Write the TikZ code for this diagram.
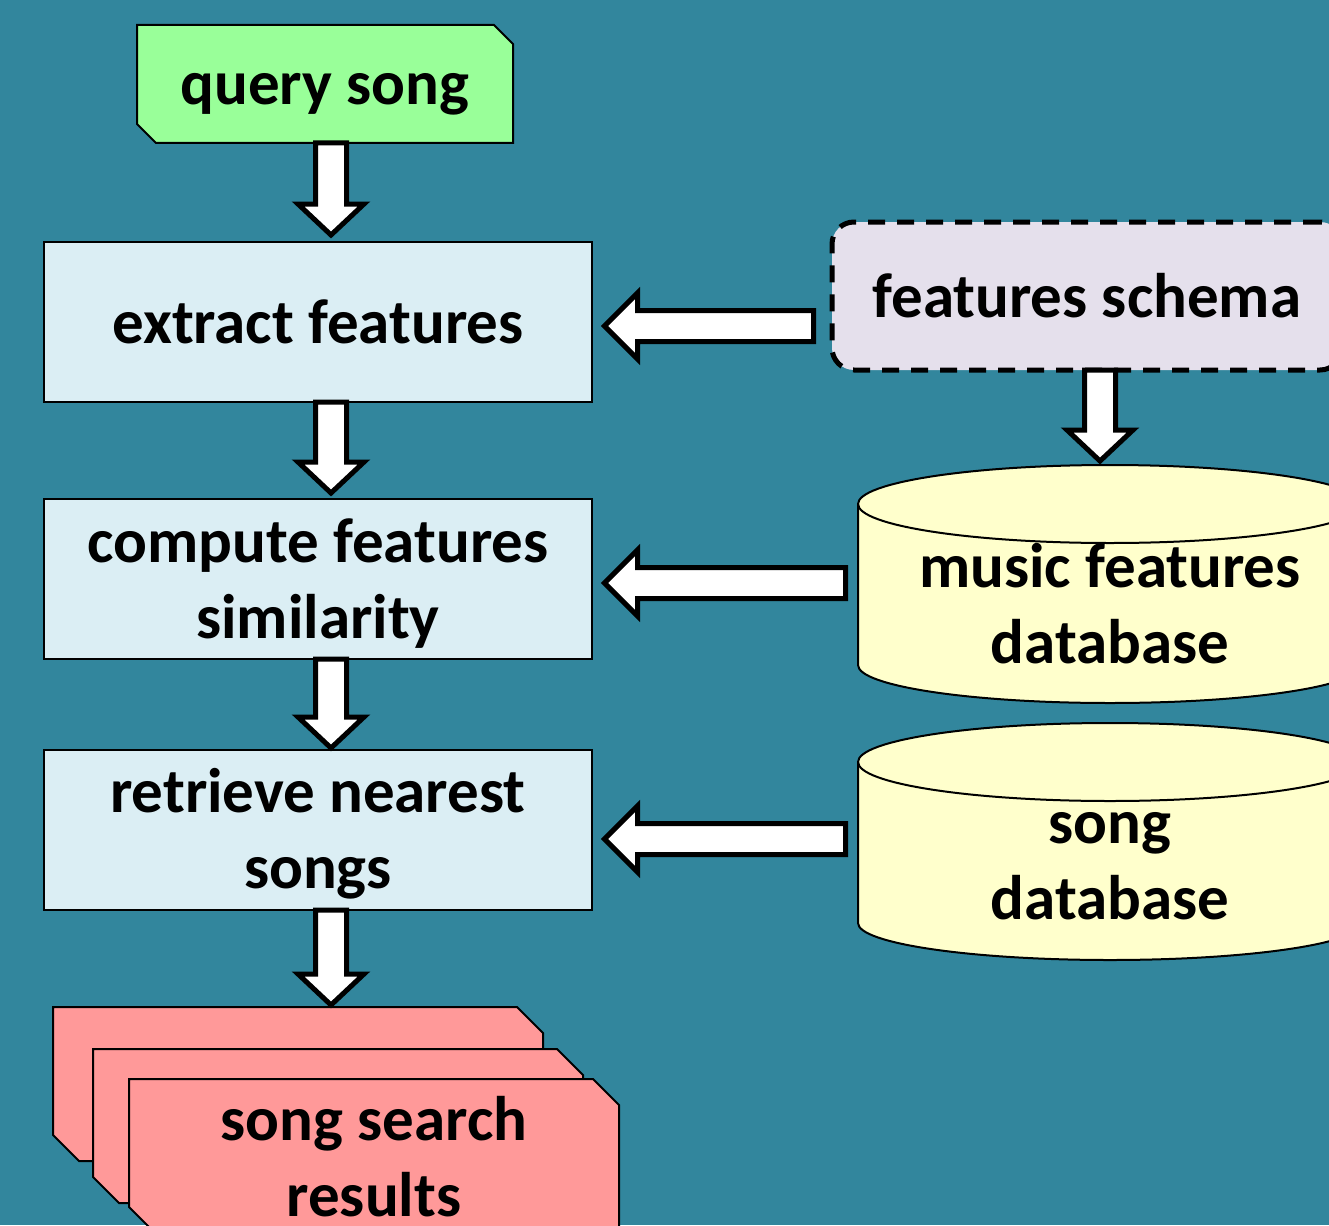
\documentclass[tikz,border=0pt]{standalone}
\usepackage{fontspec}
\setmainfont{Carlito}
\usetikzlibrary{shapes.misc,calc}

\definecolor{bgteal}{RGB}{50,134,157}
\definecolor{procfill}{RGB}{219,238,244}
\definecolor{queryfill}{RGB}{153,255,153}
\definecolor{schemafill}{RGB}{229,224,236}
\definecolor{dbfill}{RGB}{255,255,204}
\definecolor{resultfill}{RGB}{255,153,153}

\newcommand\diagfont{\fontsize{63}{76}\selectfont\bfseries}
% text block whose first baseline sits #1 above the node centre
\newcommand\lbl[2]{\smash{\raisebox{#1}{\begin{tabular}[t]{@{}c@{}}#2\end{tabular}}}}

% hollow block arrow pointing down: #1 shaft start, #2 tip (y only)
\newcommand\downblock[2]{%
  \draw[blockarrow] let \p1=#1, \p2=#2 in
    (\x1-15.5pt,\y1) -- (\x1-15.5pt,\y2+31pt) -- (\x1-33pt,\y2+31pt) -- (\x1,\y2)
    -- (\x1+33pt,\y2+31pt) -- (\x1+15.5pt,\y2+31pt) -- (\x1+15.5pt,\y1) -- cycle;}
% hollow block arrow pointing left: #1 tail (x only), #2 tip
\newcommand\leftblock[2]{%
  \draw[blockarrow] let \p1=#1, \p2=#2 in
    (\x1,\y2+15.5pt) -- (\x2+33pt,\y2+15.5pt) -- (\x2+33pt,\y2+33pt) -- (\x2,\y2)
    -- (\x2+33pt,\y2-33pt) -- (\x2+33pt,\y2-15.5pt) -- (\x1,\y2-15.5pt) -- cycle;}
% database cylinder filling the box of node #1; #2 top radius, #3 bottom radius
\newcommand\drawdb[3]{%
  \path[dbbody] let \p1=(#1.north west), \p2=(#1.south east), \n1={(\x2-\x1)/2} in
    (\x1,\y1-#2) -- (\x1,\y2+#3)
    arc[start angle=180,end angle=360,x radius=\n1,y radius=#3]
    -- (\x2,\y1-#2)
    arc[start angle=0,end angle=180,x radius=\n1,y radius=#2] -- cycle;
  \draw[dbline] let \p1=(#1.north west), \p2=(#1.south east), \n1={(\x2-\x1)/2} in
    (\x1,\y1-#2) arc[start angle=180,end angle=360,x radius=\n1,y radius=#2];}

\tikzset{
  every node/.style={inner sep=0pt, outer sep=0pt, font=\diagfont},
  procbox/.style={rectangle, draw=black, line width=2pt, fill=procfill,
    minimum width=548pt, minimum height=160pt},
  querybox/.style={chamfered rectangle, chamfered rectangle corners={north east,south west},
    chamfered rectangle xsep=20pt, chamfered rectangle ysep=19pt,
    draw=black, line width=2pt, fill=queryfill, minimum width=376pt, minimum height=118pt},
  schemabox/.style={rectangle, rounded corners=22pt, draw=black, line width=5pt,
    dash pattern=on 17pt off 12pt, fill=schemafill, minimum width=510pt, minimum height=148pt},
  dbzone/.style={rectangle, minimum width=504pt},
  dbbody/.style={draw=black, line width=2pt, fill=dbfill},
  dbline/.style={draw=black, line width=2pt},
  resultbox/.style={chamfered rectangle, chamfered rectangle corners={north east,south west},
    chamfered rectangle xsep=25pt, chamfered rectangle ysep=26pt,
    draw=black, line width=2pt, fill=resultfill, minimum width=490pt, minimum height=154pt},
  blockarrow/.style={draw=black, fill=white, line width=5pt, line join=miter},
}

\begin{document}
\begin{tikzpicture}[x=1pt,y=-1pt]
  \useasboundingbox (0,0) rectangle (1329,1225);
  \fill[bgteal] (0,0) rectangle (1329,1225);
  \clip (0,0) rectangle (1329,1225);

  % main pipeline
  \node[querybox] (q)  at (325,84)  {\lbl{-21pt}{query song}};
  \node[procbox]  (ef) at (318,322) {\lbl{-21pt}{extract features}};
  \node[procbox]  (cf) at (318,579) {\lbl{17pt}{compute features\\similarity}};
  \node[procbox]  (rn) at (318,830) {\lbl{18pt}{retrieve nearest\\songs}};

  % stacked results (the back sheets carry an invisible strut so the chamfers show)
  \node[resultbox] (r1) at (298,1084) {\hphantom{song search}};
  \node[resultbox] (r2) at (338,1126) {\hphantom{song search}};
  \node[resultbox] (r3) at (374,1156) {\lbl{16pt}{song search\\results}};

  % schema and databases
  \node[schemabox] (fs) at (1087,296) {\lbl{-21pt}{features schema}};
  \node[dbzone, minimum height=238pt] (md) at (1110,584) {};
  \drawdb{md}{39pt}{38pt}
  \node (mdt) at (md.center) {\lbl{-3pt}{music features\\database}};
  \node[dbzone, minimum height=237pt] (sd) at (1110,841.5) {};
  \drawdb{sd}{39pt}{37pt}
  \node (sdt) at (sd.center) {\lbl{-1.5pt}{song\\database}};

  % connectors
  \downblock{([xshift=6pt]q.south)}{([yshift=7pt]ef.north)}
  \downblock{([xshift=13pt]ef.south)}{([yshift=6pt]cf.north)}
  \downblock{([xshift=13pt]cf.south)}{([yshift=2pt]rn.north)}
  \downblock{([xshift=13pt]rn.south)}{([yshift=2pt]r1.north)}
  \downblock{([xshift=13pt]fs.south)}{([yshift=4pt]md.north)}
  \leftblock{([xshift=-18.5pt]fs.west)}{([xshift=12.5pt,yshift=-4pt]ef.east)}
  \leftblock{([xshift=-12.5pt]md.west)}{([xshift=12.5pt,yshift=-4pt]cf.east)}
  \leftblock{([xshift=-12.5pt]sd.west)}{([xshift=12.5pt,yshift=-9pt]rn.east)}
\end{tikzpicture}
\end{document}
